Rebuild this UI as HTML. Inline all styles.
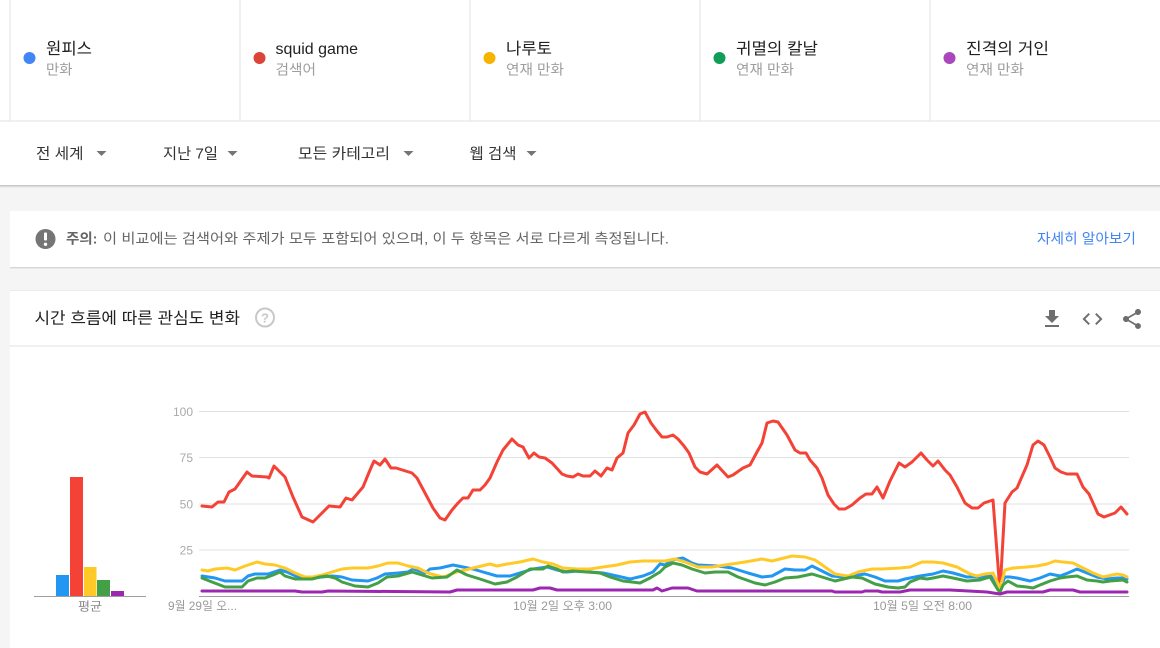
<!DOCTYPE html>
<html><head><meta charset="utf-8"><style>
html,body{margin:0;padding:0;background:#f5f5f5;}
svg{display:block;}
text{font-family:"Liberation Sans","Noto Sans CJK KR",sans-serif;}
</style></head><body>
<svg width="1160" height="648" viewBox="0 0 1160 648" xmlns="http://www.w3.org/2000/svg">
<rect x="0" y="0" width="1160" height="648" fill="#f5f5f5"/>
<!-- header -->
<rect x="0" y="0" width="1160" height="185" fill="#ffffff"/>
<rect x="0" y="185" width="1160" height="1" fill="#c6c6c6"/>
<rect x="0" y="186" width="1160" height="1" fill="#dcdcdc"/>
<rect x="0" y="187" width="1160" height="1" fill="#ebebeb"/>
<rect x="0" y="120.5" width="1160" height="1" fill="#e0e0e0"/>
<g fill="#e0e0e0">
<rect x="9.5" y="0" width="1" height="121"/>
<rect x="239.5" y="0" width="1" height="121"/>
<rect x="469.5" y="0" width="1" height="121"/>
<rect x="699.5" y="0" width="1" height="121"/>
<rect x="929.5" y="0" width="1" height="121"/>
</g>
<circle cx="29.5" cy="58" r="6" fill="#4285f4"/>
<circle cx="259.5" cy="58" r="6" fill="#db4437"/>
<circle cx="489.5" cy="58" r="6" fill="#f4b400"/>
<circle cx="719.5" cy="58" r="6" fill="#0f9d58"/>
<circle cx="949.5" cy="58" r="6" fill="#ab47bc"/>
<g font-size="16" fill="#212121">
<text x="46" y="54" textLength="46" lengthAdjust="spacingAndGlyphs">원피스</text>
<text x="275.5" y="54" textLength="82.5" lengthAdjust="spacingAndGlyphs">squid game</text>
<text x="506" y="54" textLength="46" lengthAdjust="spacingAndGlyphs">나루토</text>
<text x="736" y="54" textLength="82" lengthAdjust="spacingAndGlyphs">귀멸의 칼날</text>
<text x="966" y="54" textLength="83" lengthAdjust="spacingAndGlyphs">진격의 거인</text>
</g>
<g font-size="14" fill="#9e9e9e">
<text x="46" y="74.5" textLength="26.5" lengthAdjust="spacingAndGlyphs">만화</text>
<text x="275.5" y="74.5" textLength="40.5" lengthAdjust="spacingAndGlyphs">검색어</text>
<text x="506" y="74.5" textLength="58" lengthAdjust="spacingAndGlyphs">연재 만화</text>
<text x="736" y="74.5" textLength="58" lengthAdjust="spacingAndGlyphs">연재 만화</text>
<text x="966" y="74.5" textLength="58" lengthAdjust="spacingAndGlyphs">연재 만화</text>
</g>
<!-- filters -->
<g font-size="15" fill="#333333">
<text x="36" y="158.5" textLength="47.5" lengthAdjust="spacingAndGlyphs">전 세계</text>
<text x="163" y="158.5" textLength="55" lengthAdjust="spacingAndGlyphs">지난 7일</text>
<text x="298" y="158.5" textLength="92" lengthAdjust="spacingAndGlyphs">모든 카테고리</text>
<text x="469.5" y="158.5" textLength="47" lengthAdjust="spacingAndGlyphs">웹 검색</text>
</g>
<g fill="#757575">
<polygon points="96.5,151 106.5,151 101.5,156"/>
<polygon points="227.5,151 237.5,151 232.5,156"/>
<polygon points="403.5,151 413.5,151 408.5,156"/>
<polygon points="526.5,151 536.5,151 531.5,156"/>
</g>
<!-- notice card -->
<rect x="10" y="211" width="1150" height="56" fill="#ffffff"/>
<rect x="10" y="267" width="1150" height="1" fill="#d6d6d6"/>
<rect x="10" y="268" width="1150" height="1" fill="#e9e9e9"/>
<circle cx="45.5" cy="239" r="10" fill="#757575"/>
<rect x="44" y="232.5" width="3" height="8" rx="1" fill="#ffffff"/>
<circle cx="45.5" cy="244.3" r="1.7" fill="#ffffff"/>
<text x="66" y="243.5" font-size="14" font-weight="bold" fill="#666666" textLength="31.5" lengthAdjust="spacingAndGlyphs">주의:</text>
<text x="103" y="243.5" font-size="14" fill="#666666" textLength="566" lengthAdjust="spacingAndGlyphs">이 비교에는 검색어와 주제가 모두 포함되어 있으며, 이 두 항목은 서로 다르게 측정됩니다.</text>
<text x="1037" y="243.5" font-size="14" fill="#4285f4" textLength="99" lengthAdjust="spacingAndGlyphs">자세히 알아보기</text>
<!-- chart card -->
<rect x="10" y="290" width="1150" height="1" fill="#ececec"/>
<rect x="10" y="291" width="1150" height="357" fill="#ffffff"/>
<text x="34.5" y="323.5" font-size="16" fill="#212121" textLength="205.5" lengthAdjust="spacingAndGlyphs">시간 흐름에 따른 관심도 변화</text>
<circle cx="265" cy="317.5" r="9" fill="none" stroke="#c8c8c8" stroke-width="2"/>
<text x="265" y="322.5" font-size="13" font-weight="bold" fill="#c8c8c8" text-anchor="middle">?</text>
<g fill="#6e6e6e">
<path transform="translate(1040,307)" d="M19 9h-4V3H9v6H5l7 7 7-7zM5 18v2h14v-2H5z"/>
<path transform="translate(1080.5,307)" d="M9.4 16.6L4.8 12l4.6-4.6L8 6l-6 6 6 6 1.4-1.4zm5.2 0l4.6-4.6-4.6-4.6L16 6l6 6-6 6-1.4-1.4z"/>
<path transform="translate(1120,307)" d="M18 16.08c-.76 0-1.44.3-1.960.77L8.91 12.7c.05-.23.09-.46.09-.7s-.04-.47-.09-.7l7.05-4.11c.54.5 1.250.81 2.040.81 1.66 0 3-1.34 3-3s-1.34-3-3-3-3 1.34-3 3c0 .24.04.47.09.7L8.04 9.81C7.5 9.31 6.79 9 6 9c-1.66 0-3 1.34-3 3s1.34 3 3 3c.79 0 1.5-.31 2.04-.81l7.12 4.16c-.05.21-.08.43-.08.65 0 1.61 1.31 2.92 2.92 2.92 1.61 0 2.92-1.31 2.920-2.92s-1.31-2.92-2.92-2.92z"/>
</g>
<rect x="10" y="345.5" width="1150" height="1" fill="#e0e0e0"/>
<!-- gridlines -->
<g stroke="#e0e0e0" stroke-width="1">
<line x1="199" y1="411.5" x2="1129" y2="411.5"/>
<line x1="199" y1="457.5" x2="1129" y2="457.5"/>
<line x1="199" y1="504" x2="1129" y2="504"/>
<line x1="199" y1="550" x2="1129" y2="550"/>
</g>
<g font-size="12" fill="#aaaaaa" text-anchor="end">
<text x="193" y="416">100</text>
<text x="193" y="462">75</text>
<text x="193" y="508.5">50</text>
<text x="193" y="554.5">25</text>
</g>
<!-- bars -->
<rect x="56" y="575" width="13" height="21" fill="#2196f3"/>
<rect x="70" y="477" width="13" height="119" fill="#f44336"/>
<rect x="84" y="567" width="12.5" height="29" fill="#ffca28"/>
<rect x="97" y="580" width="13" height="16" fill="#43a047"/>
<rect x="111" y="591" width="13" height="5" fill="#9c27b0"/>
<rect x="34" y="596" width="112" height="1" fill="#9e9e9e"/>
<text x="78" y="610.5" font-size="12" fill="#888888" textLength="24" lengthAdjust="spacingAndGlyphs">평균</text>
<!-- series -->
<g fill="none" stroke-width="3" stroke-linejoin="round" stroke-linecap="round">
<polyline stroke="#2196f3" points="202,576 215,578 225,581 242,581 248,576 255,574 268,574 280,570 287,572 298,577 312,578 322,577 332,576 342,577 352,580 368,581 377,578 385,574 398,573 408,572 413,569 425,573 430,569 440,568 453,565 463,567 473,569 483,572 497,576 510,576 523,572 533,569 547,567 557,570 567,572 577,571 590,572 603,573 617,576 630,579 643,576 653,572 660,564 665,565 672,560 683,558 692,563 698,565 718,566 732,568 748,573 762,577 772,576 785,569 795,570 805,570 812,566 822,571 832,576 845,577 865,574 875,577 885,581 898,581 905,579 910,578 920,576 933,574 943,571 953,573 967,577 980,577 990,575 1000,588 1005,577 1010,577 1017,578 1030,581 1040,578 1050,574 1060,576 1068,573 1077,569 1087,573 1097,577 1107,579 1117,578 1123,578 1127,579"/>
<polyline stroke="#f44336" points="202,506 212,507 218,502 224,502 229,492 235,489 247,472 252,476 267,477 269,478 274,466 280,472 285,477 293,497 302,517 313,522 320,515 329,506 340,507 346,498 352,500 363,487 370,470 374,461 380,465 385,459 391,468 396,468 412,473 417,478 425,493 433,508 440,518 445,520 452,510 458,503 463,498 468,498 473,490 480,490 485,485 490,478 497,462 503,450 512,439 518,445 523,447 529,458 534,453 539,457 545,458 552,463 562,474 567,476 573,477 578,474 583,476 590,476 595,471 601,476 607,468 612,470 617,458 623,453 628,433 634,425 640,414 645,412 651,423 657,431 662,437 667,437 673,435 678,439 684,446 689,453 695,467 700,472 707,474 717,465 728,477 733,475 743,468 750,465 757,452 762,443 767,423 773,421 778,422 787,435 795,450 800,453 806,453 810,460 817,468 822,478 828,495 834,504 839,509 845,509 852,505 860,498 866,494 872,494 877,487 883,498 890,481 899,463 905,467 912,462 921,453 927,460 933,466 938,461 945,470 950,475 957,487 965,503 972,508 978,508 984,503 993,500 1000,592 1005,503 1012,492 1017,488 1027,465 1033,445 1038,441 1044,445 1050,457 1055,468 1061,472 1067,474 1077,474 1083,487 1089,494 1098,514 1104,517 1115,513 1121,507 1127,514"/>
<polyline stroke="#ffca28" points="202,570 208,571 215,569 227,568 235,570 245,566 257,562 265,564 275,565 285,568 295,573 305,577 313,577 322,575 332,572 342,569 352,568 368,568 378,566 388,563 398,563 408,566 418,568 428,573 435,575 443,577 457,572 473,568 490,564 497,566 507,564 520,562 533,559 543,562 553,564 563,568 577,569 590,569 603,567 617,565 630,562 643,561 665,561 675,559 685,562 698,567 712,567 725,565 745,562 762,559 772,561 792,556 805,557 815,560 825,567 835,574 848,576 858,572 872,569 882,569 900,568 910,567 922,562 933,562 943,563 957,567 970,574 977,576 985,574 993,573 1000,588 1005,570 1013,568 1027,567 1037,566 1047,564 1055,561 1063,562 1073,563 1083,568 1093,573 1103,577 1117,574 1123,575 1127,577"/>
<polyline stroke="#43a047" points="202,578 212,582 225,587 242,587 248,581 257,578 265,578 273,575 280,572 285,576 295,579 312,579 320,577 327,576 335,578 342,582 355,586 368,587 378,583 387,577 398,576 412,572 422,575 432,578 447,577 457,570 467,575 480,579 495,584 507,582 517,577 530,569 543,569 548,566 557,569 563,572 573,571 587,572 600,573 610,577 623,581 640,583 650,578 660,572 665,567 673,563 682,565 692,569 705,573 715,572 728,572 738,577 755,583 765,585 775,582 785,578 798,577 812,574 822,577 835,581 852,577 862,578 875,584 888,587 898,588 905,587 910,582 920,578 927,579 933,578 943,576 953,578 967,581 980,580 990,577 998,590 1000,592 1003,585 1008,581 1017,586 1027,587 1033,588 1040,585 1050,581 1060,578 1067,577 1077,576 1087,580 1097,581 1103,582 1110,581 1123,580 1127,582"/>
<polyline stroke="#9c27b0" points="202,591 295,591 302,592 322,592 328,591 450,592 457,590 533,590 540,588 550,588 557,590 653,590 657,588 662,591 672,588 688,588 697,591 832,591 835,592 862,592 865,591 878,591 882,592 900,592 910,590 950,590 987,592 1000,594 1007,592 1043,592 1050,590 1073,590 1080,592 1127,592"/>
</g>
<rect x="199" y="596" width="930" height="1" fill="#9e9e9e"/>
<g font-size="12" fill="#999999">
<text x="168" y="610" textLength="69" lengthAdjust="spacingAndGlyphs">9월 29일 오...</text>
<text x="513" y="610" textLength="99" lengthAdjust="spacingAndGlyphs">10월 2일 오후 3:00</text>
<text x="873" y="610" textLength="99" lengthAdjust="spacingAndGlyphs">10월 5일 오전 8:00</text>
</g>
</svg>
</body></html>
